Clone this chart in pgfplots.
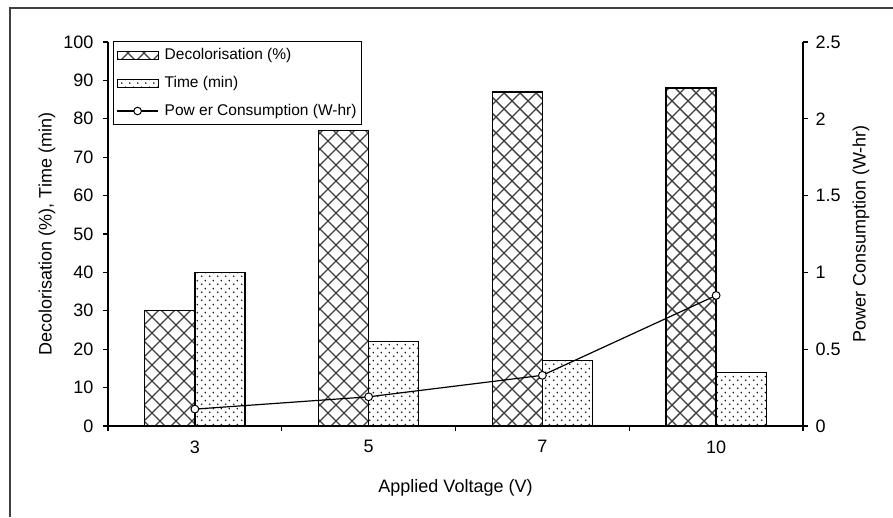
\documentclass[border=0pt]{standalone}
\usepackage{fontspec}
\setmainfont{Liberation Sans}
\usepackage{pgfplots}
\pgfplotsset{compat=1.18}
\usetikzlibrary{patterns}

\pgfdeclarepatternformonly{xhatch}{\pgfqpoint{-1pt}{-1pt}}{\pgfqpoint{17pt}{17pt}}{\pgfqpoint{16pt}{16pt}}{%
  \pgfsetlinewidth{1.4pt}%
  \pgfpathmoveto{\pgfqpoint{0pt}{0pt}}\pgfpathlineto{\pgfqpoint{16pt}{16pt}}%
  \pgfpathmoveto{\pgfqpoint{0pt}{16pt}}\pgfpathlineto{\pgfqpoint{16pt}{0pt}}%
  \pgfusepath{stroke}}

\pgfdeclarepatternformonly{sdots}{\pgfqpoint{0pt}{0pt}}{\pgfqpoint{8pt}{8pt}}{\pgfqpoint{8pt}{8pt}}{%
  \pgfpathcircle{\pgfqpoint{2pt}{2pt}}{1pt}%
  \pgfpathcircle{\pgfqpoint{6pt}{6pt}}{1pt}%
  \pgfusepath{fill}}

\newcommand{\tfont}{\fontsize{18}{21}\selectfont}
\newcommand{\lfont}{\fontsize{15.5}{18}\selectfont}

\begin{document}
\begin{tikzpicture}
\useasboundingbox (0,0) rectangle (893pt,517pt);
\fill[white] (0,0) rectangle (893pt,517pt);
\draw[line width=1.6pt, black!75] (10pt,0) -- (10pt,509pt) -- (893pt,509pt);

\pgfplotsset{
  common/.style={
    at={(108pt,91pt)}, anchor=south west,
    scale only axis, width=695pt, height=384pt,
    xmin=-0.5, xmax=3.5,
    tick align=outside,
    major tick length=5pt, minor tick length=5pt,
    axis line style={-, line width=1.1pt, black},
    tick style={line width=1.1pt, black},
    tick label style={font=\tfont},
    /pgf/number format/assume math mode=true,
    /pgf/number format/fixed,
  }
}

\begin{axis}[common,
  ymin=0, ymax=100,
  axis y line*=left, axis x line*=bottom,
  ytick={0,10,...,100},
  yticklabel style={xshift=-6pt},
  xtick={0,1,2,3}, xticklabels={3,5,7,10},
  major x tick style={draw=none},
  minor xtick={-0.5,0.5,1.5,2.5,3.5},
  xticklabel style={yshift=-6pt},
  every axis x label/.style={at={(axis description cs:0.5,-0.1615)}, anchor=center, font=\tfont},
  every axis y label/.style={at={(axis description cs:-0.0878,0.5)}, rotate=90, anchor=center, font=\tfont},
  xlabel={Applied Voltage (V)},
  ylabel={Decolorisation (\%), Time (min)},
  legend cell align=left,
  legend style={at={(axis description cs:0.0072,1.0026)}, anchor=north west,
    draw=black, line width=1pt, font=\lfont,
    inner xsep=3pt, inner ysep=4pt, row sep=9pt, column sep=4pt,
    nodes={inner sep=2pt, text height=11.5pt, text depth=3.5pt}},
]
\addplot[ybar, bar width=0.288, bar shift=-0.144, draw=black, line width=1.3pt,
  pattern=xhatch, pattern color=black!75,
  legend image code/.code={\draw[black, line width=1pt, pattern=xhatch, pattern color=black!75] (0pt,-4pt) rectangle (41pt,4pt);}]
  coordinates {(0,30) (1,77) (2,87) (3,88)};
\addlegendentry{Decolorisation (\%)}
\addplot[ybar, bar width=0.288, bar shift=0.144, draw=black, line width=1.3pt,
  pattern=sdots, pattern color=black!90,
  legend image code/.code={\draw[black, line width=1pt, pattern=sdots, pattern color=black!90] (0pt,-4pt) rectangle (41pt,4pt);}]
  coordinates {(0,40) (1,22) (2,17) (3,14)};
\addlegendentry{Time (min)}
\addlegendimage{black, line width=1.2pt,
  legend image code/.code={\draw[black, line width=1.2pt] (0pt,0pt) -- (41pt,0pt);
    \draw[black, line width=1pt, fill=white] (20.5pt,0pt) circle (3.8pt);}}
\addlegendentry{Pow er Consumption (W-hr)}
\end{axis}

\begin{axis}[common,
  ymin=0, ymax=2.5,
  axis y line*=right, axis x line=none,
  ytick={0,0.5,...,2.5},
  yticklabel style={xshift=4pt},
  every axis y label/.style={at={(axis description cs:1.0835,0.5)}, rotate=90, anchor=center, font=\tfont},
  ylabel={Power Consumption (W-hr)},
]
\addplot[black, line width=1.2pt, mark=*, mark size=3.9pt,
  mark options={fill=white, draw=black, line width=1pt}]
  coordinates {(0,0.11) (1,0.19) (2,0.33) (3,0.85)};
\end{axis}
\end{tikzpicture}
\end{document}
